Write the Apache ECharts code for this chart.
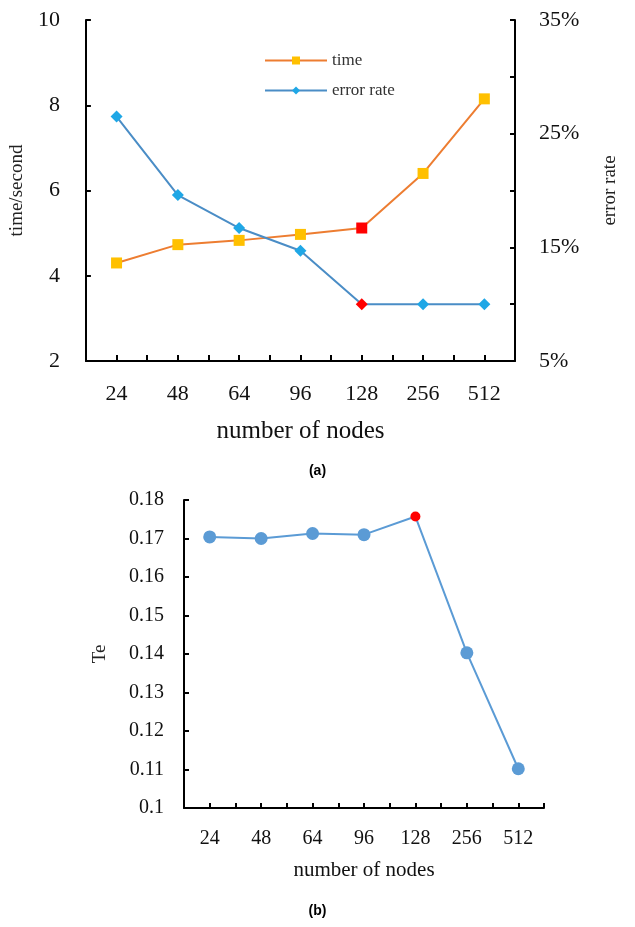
<!DOCTYPE html>
<html><head><meta charset="utf-8">
<script src="https://cdn.jsdelivr.net/npm/echarts@6/dist/echarts.min.js"></script>
<style>html,body{margin:0;padding:0;background:#fff}#c{width:635px;height:927px}</style>
</head><body><div id="c"></div>
<script>
const categories = ['24','48','64','96','128','256','512'];
const timeValues = [4.3, 4.73, 4.83, 4.97, 5.12, 6.4, 8.15];
const errorRateValues = [26.5, 19.6, 16.7, 14.7, 10.0, 10.0, 10.0];
const teValues = [0.1704, 0.1700, 0.1713, 0.1710, 0.1757, 0.1403, 0.1102];
const highlightIndex = 4;

const serif = 'Liberation Serif';
const axisLine = {show:true, lineStyle:{color:'#000', width:2}};

function pts(vals, hl) {
  return vals.map((v,i)=> i===highlightIndex ? {value:v, itemStyle:{color:hl}} : v);
}

const chart = echarts.init(document.getElementById('c'), null, {renderer:'canvas'});
chart.setOption({
  animation:false,
  backgroundColor:'#fff',
  grid:[
    {left:84, right:120, top:20, height:341},
    {left:184, right:91, top:500, height:308}
  ],
  legend:{
    orient:'vertical', left:259, top:47, itemWidth:62, itemHeight:10, itemGap:13,
    textStyle:{fontFamily:serif, fontSize:17, color:'#333'},
    data:['time','error rate']
  },
  xAxis:[
    {type:'category', gridIndex:0, data:categories, boundaryGap:true,
     axisLine:axisLine, axisTick:{show:true, inside:true, length:6, lineStyle:{color:'#000',width:2}},
     axisLabel:{fontFamily:serif, fontSize:22, color:'#111', margin:22},
     name:'number of nodes', nameLocation:'middle', nameGap:58,
     nameTextStyle:{fontFamily:serif, fontSize:25, color:'#111'}},
    {type:'category', gridIndex:0, data:categories, boundaryGap:true, position:'bottom',
     axisLine:{show:false}, axisLabel:{show:false},
     axisTick:{show:true, inside:true, alignWithLabel:true, length:6, lineStyle:{color:'#000',width:2}}},
    {type:'category', gridIndex:1, data:categories, boundaryGap:true,
     axisLine:axisLine, axisTick:{show:true, inside:true, length:5, lineStyle:{color:'#000',width:2}},
     axisLabel:{fontFamily:serif, fontSize:20, color:'#111', margin:21},
     name:'number of nodes', nameLocation:'middle', nameGap:52,
     nameTextStyle:{fontFamily:serif, fontSize:21, color:'#111'}},
    {type:'category', gridIndex:1, data:categories, boundaryGap:true, position:'bottom',
     axisLine:{show:false}, axisLabel:{show:false},
     axisTick:{show:true, inside:true, alignWithLabel:true, length:5, lineStyle:{color:'#000',width:2}}}
  ],
  yAxis:[
    {type:'value', gridIndex:0, min:2, max:10, interval:2, position:'left',
     axisLine:axisLine, axisTick:{show:true, inside:true, length:5, lineStyle:{color:'#000',width:2}},
     splitLine:{show:false},
     axisLabel:{fontFamily:serif, fontSize:22, color:'#111', margin:26},
     name:'time/second', nameLocation:'middle', nameGap:58, nameRotate:90,
     nameTextStyle:{fontFamily:serif, fontSize:19, color:'#222'}},
    {type:'value', gridIndex:0, min:5, max:35, interval:5, position:'right',
     axisLine:axisLine, axisTick:{show:true, inside:true, length:5, lineStyle:{color:'#000',width:2}},
     splitLine:{show:false},
     axisLabel:{fontFamily:serif, fontSize:22, color:'#111', margin:24,
       formatter:v => ((v-5)%10===0 ? v+'%' : '')},
     name:'error rate', nameLocation:'middle', nameGap:86, nameRotate:90,
     nameTextStyle:{fontFamily:serif, fontSize:19, color:'#222'}},
    {type:'value', gridIndex:1, min:0.1, max:0.18, interval:0.01,
     axisLine:axisLine, axisTick:{show:true, inside:true, length:5, lineStyle:{color:'#000',width:2}},
     splitLine:{show:false},
     axisLabel:{fontFamily:serif, fontSize:20, color:'#111', margin:20,
       formatter:v => (Math.round(v*100)/100).toString()},
     name:'Te', nameLocation:'middle', nameGap:74, nameRotate:90,
     nameTextStyle:{fontFamily:serif, fontSize:19, color:'#222'}}
  ],
  series:[
    {name:'time', type:'line', xAxisIndex:0, yAxisIndex:0, data:pts(timeValues,'#FF0000'),
     symbol:'rect', symbolSize:11, lineStyle:{color:'#ED7D31', width:2},
     itemStyle:{color:'#FFC000', borderWidth:0}},
    {name:'error rate', type:'line', xAxisIndex:0, yAxisIndex:1, data:pts(errorRateValues,'#FF0000'),
     symbol:'diamond', symbolSize:12, lineStyle:{color:'#4A8DC6', width:2},
     itemStyle:{color:'#1FA7E6', borderWidth:0}},
    {name:'Te', type:'line', xAxisIndex:2, yAxisIndex:2,
     data:teValues.map((v,i)=> i===highlightIndex ? {value:v, symbolSize:10, itemStyle:{color:'#FF0000'}} : v),
     symbol:'circle', symbolSize:13, lineStyle:{color:'#5B9BD5', width:2},
     itemStyle:{color:'#5B9BD5', borderWidth:0}}
  ],
  graphic:[
    {type:'text', left:'center', top:464, style:{text:'(a)', fontFamily:'Liberation Sans', fontWeight:'bold', fontSize:14, fill:'#000'}},
    {type:'text', left:'center', top:904, style:{text:'(b)', fontFamily:'Liberation Sans', fontWeight:'bold', fontSize:14, fill:'#000'}}
  ]
});
</script></body></html>
